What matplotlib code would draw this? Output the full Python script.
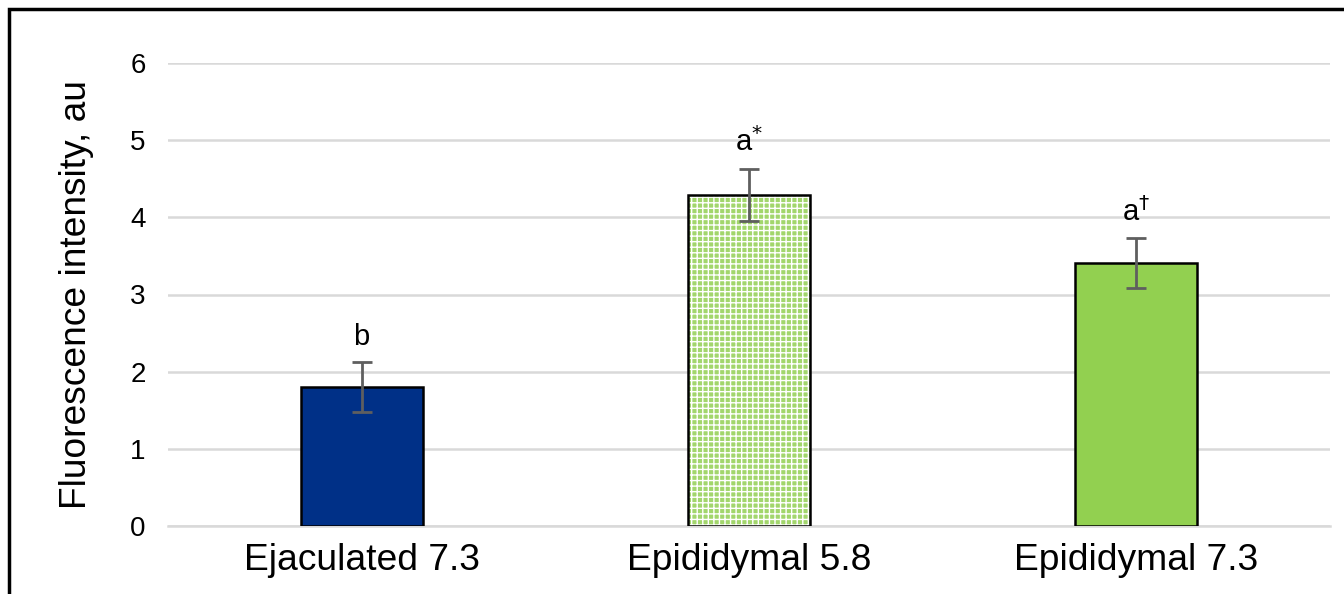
import numpy as np
import matplotlib
matplotlib.use("Agg")
import matplotlib.pyplot as plt
from matplotlib.patches import Rectangle

plt.rcParams['font.family'] = ['Liberation Sans', 'DejaVu Sans']
plt.rcParams['hatch.linewidth'] = 1.0

# data
groups = ["Ejaculated 7.3", "Epididymal 5.8", "Epididymal 7.3"]
means = [1.80, 4.29, 3.41]
errs = [0.32, 0.34, 0.32]
letters = ["b", "a$^{*}$", "a$^{\u2020}$"]

fig = plt.figure(figsize=(13.44, 5.94), dpi=100)
ax = fig.add_axes([168/1344, 1-526/594, 1162/1344, (526-63)/594])

x = np.arange(len(groups))
w = 0.315

# bar 1 plain navy, bar 2 dotted green pattern, bar 3 plain green
ax.bar(x[0], means[0], w, color="#003087", edgecolor="black", linewidth=1.8, zorder=3)
ax.bar(x[1], means[1], w, color="#a2d66c", edgecolor="white", hatch="+++", linewidth=0, zorder=3)
ax.bar(x[1], means[1], w, color="none", edgecolor="black", linewidth=1.8, zorder=4)
ax.bar(x[2], means[2], w, color="#92d050", edgecolor="black", linewidth=1.8, zorder=3)

ax.errorbar(x, means, yerr=errs, fmt="none", ecolor="#5f5f5f", elinewidth=2,
            capsize=7, capthick=2, zorder=5)

for xi, m, e, t in zip(x, means, errs, letters):
    ax.text(xi, m + e + 0.15, t, ha="center", va="bottom", fontsize=21)

ax.set_xlim(-0.5, 2.5)
ax.set_ylim(0, 6)
ax.set_yticks(range(0, 7))
ax.yaxis.grid(True, color="#d9d9d9", linewidth=1.8, zorder=0)
ax.set_axisbelow(True)
for s in ["top", "right", "left"]:
    ax.spines[s].set_visible(False)
ax.spines["bottom"].set_color("#d9d9d9")
ax.spines["bottom"].set_linewidth(1.8)
ax.set_xticks(x)
ax.set_xticklabels(groups, fontsize=26.8)
ax.tick_params(axis="x", length=0, pad=12)
ax.tick_params(axis="y", length=0, labelsize=20, pad=16)
ax.set_ylabel("Fluorescence intensity, au", fontsize=26.7, labelpad=26)

# chart area frame, cut at the right and bottom
fig.patches.append(Rectangle((9/1344, -0.1), 1.2, 1 - 9/594 + 0.1, transform=fig.transFigure,
                             fill=False, edgecolor="black", linewidth=2.5))

fig.savefig("out.png", dpi=100)
